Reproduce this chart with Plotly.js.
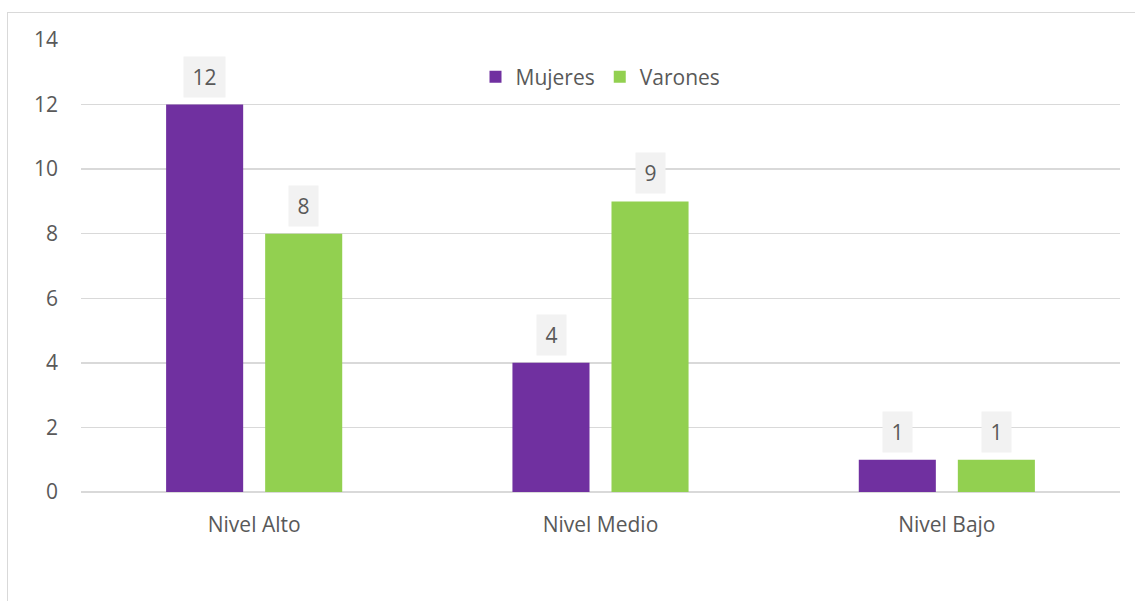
<!DOCTYPE html>
<html>
<head>
<meta charset="utf-8">
<script src="https://cdn.plot.ly/plotly-3.0.1.min.js"></script>
<style>
html,body{margin:0;padding:0;background:#fff;overflow:hidden;}
#frame{position:absolute;left:7px;top:12px;width:1200px;height:700px;border-left:1px solid #d9d9d9;border-top:1px solid #d9d9d9;}
#chart{position:absolute;left:0;top:0;width:1135px;height:601px;}
</style>
</head>
<body>
<div id="frame"></div>
<div id="chart"></div>
<script>
const categories = ["Nivel Alto", "Nivel Medio", "Nivel Bajo"];
const mujeres = [12, 4, 1];
const varones = [8, 9, 1];
const seriesNames = ["Mujeres", "Varones"];
const colors = ["#7030a0", "#92d050"];
const yTicks = [0, 2, 4, 6, 8, 10, 12, 14];

const FONT = "Open Sans, sans-serif";
const TXT = "#595959";
const FS = 21;

const traces = [mujeres, varones].map((vals, i) => ({
  type: "bar",
  name: seriesNames[i],
  x: categories,
  y: vals,
  marker: {color: colors[i]},
  hoverinfo: "skip"
}));

const annotations = [];
[mujeres, varones].forEach((vals, i) => {
  vals.forEach((v, j) => {
    const t = String(v);
    annotations.push({
      x: categories[j], y: v, xref: "x", yref: "y",
      text: t, showarrow: false,
      xanchor: "center", yanchor: "bottom",
      xshift: i === 0 ? -49.5 : 49.5, yshift: 7,
      width: 12 * t.length + 5,
      bgcolor: "#f2f2f2", borderpad: 6,
      font: {family: FONT, size: FS, color: TXT}
    });
  });
});

const layout = {
  width: 1135, height: 601,
  margin: {l: 81, r: 15, t: 40, b: 109},
  paper_bgcolor: "rgba(0,0,0,0)",
  plot_bgcolor: "rgba(0,0,0,0)",
  barmode: "group",
  bargap: 0.428,
  bargroupgap: 0.222,
  font: {family: FONT, size: FS, color: TXT},
  xaxis: {
    showgrid: false, zeroline: false, showline: false,
    ticks: "", ticklabelstandoff: 18,
    tickfont: {family: FONT, size: FS, color: TXT}
  },
  yaxis: {
    range: [0, 14], tickvals: yTicks, ticktext: yTicks.map(String),
    showgrid: true, gridcolor: "#d9d9d9", gridwidth: 1.3,
    zeroline: true, zerolinecolor: "#d9d9d9", zerolinewidth: 1.3,
    showline: false, ticks: "", ticklabelstandoff: 22,
    tickfont: {family: FONT, size: FS, color: TXT}
  },
  showlegend: true,
  legend: {
    orientation: "h", x: 0.5, xanchor: "center", y: 0.918, yanchor: "middle",
    font: {family: FONT, size: FS, color: TXT},
    bgcolor: "rgba(0,0,0,0)", itemsizing: "constant"
  },
  annotations: annotations
};

Plotly.newPlot("chart", traces, layout, {displayModeBar: false, staticPlot: true});
</script>
</body>
</html>
